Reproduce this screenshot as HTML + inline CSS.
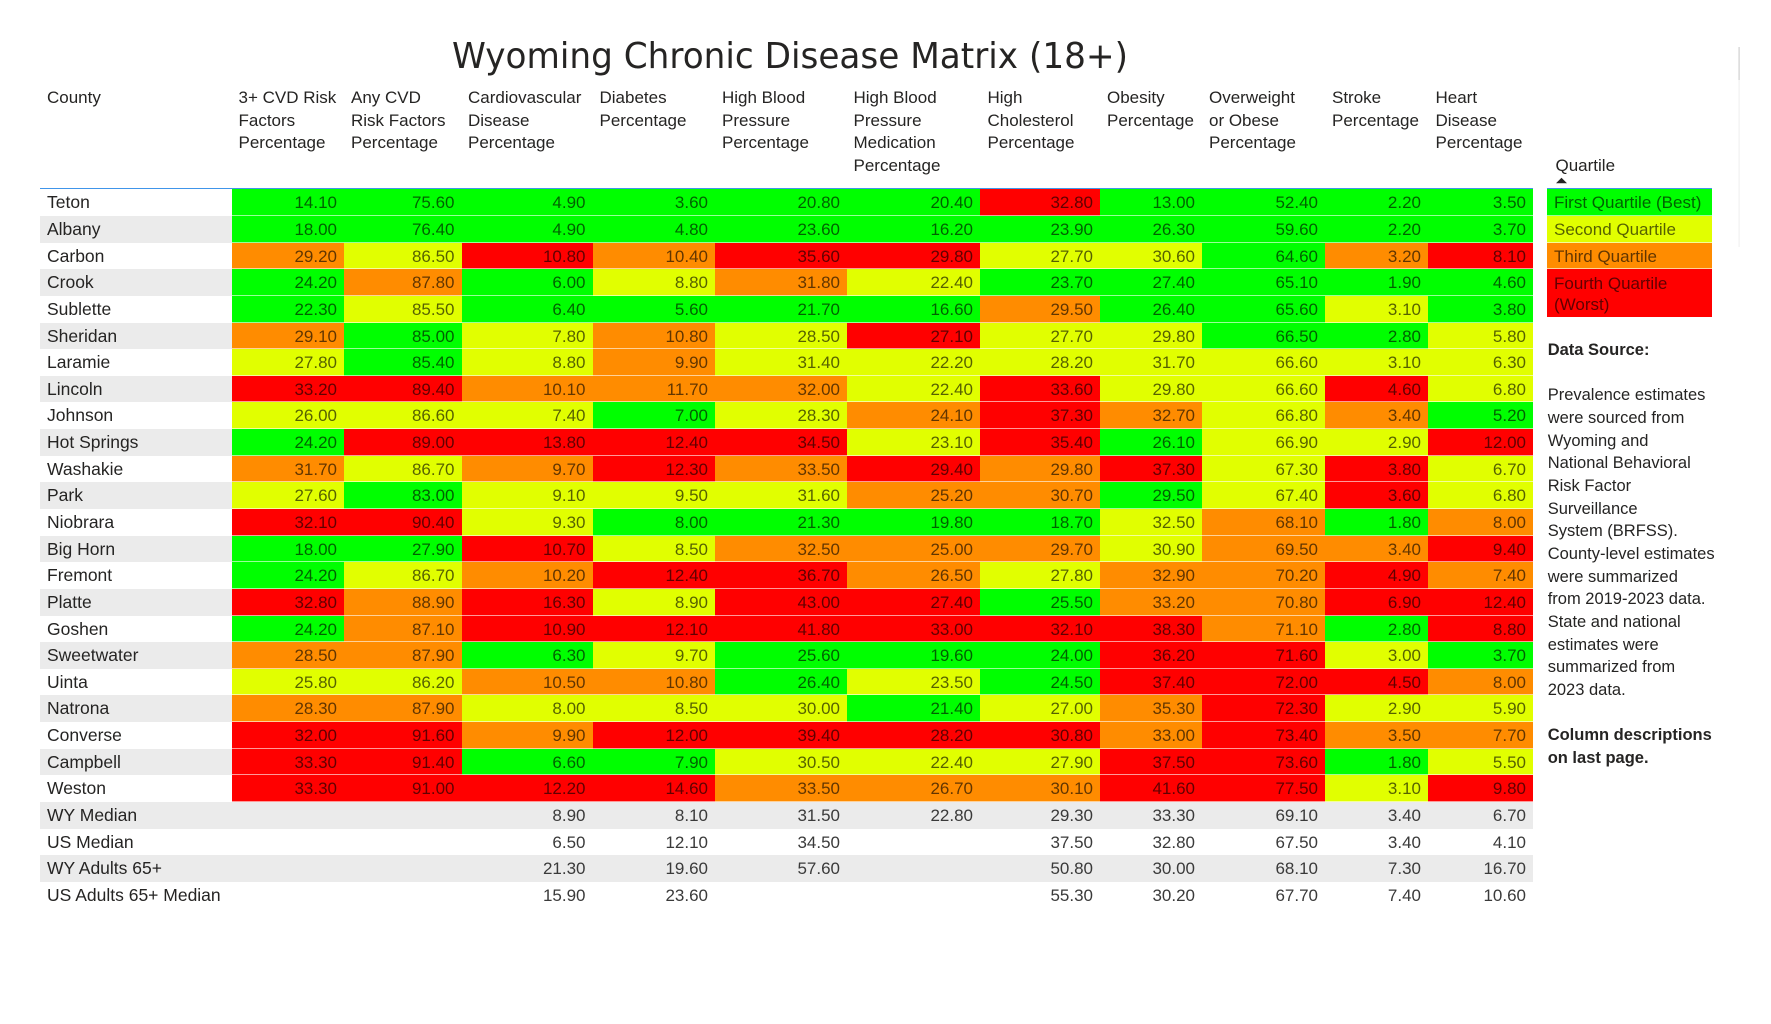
<!DOCTYPE html>
<html><head><meta charset="utf-8">
<style>
*{margin:0;padding:0;box-sizing:border-box}
html,body{width:1771px;height:1024px;background:#fff;overflow:hidden;position:relative;font-family:"Liberation Sans",Arial,sans-serif;color:#252423}
.h{position:absolute;top:87.4px;font-size:17px;line-height:22.5px;white-space:nowrap;color:#252423}
#grid{position:absolute;left:40px;top:189.3px;display:grid;grid-template-columns:191.5px 112.5px 117.5px 131px 122.5px 132px 133px 120px 102px 123px 103px 105px;grid-auto-rows:26.65px}
#grid div{font-size:17px;line-height:25.65px;padding-top:1px;text-align:right;padding-right:7px;white-space:nowrap;color:rgba(0,0,0,0.62)}
#grid .n{text-align:left;padding-left:7px;padding-right:0;font-size:17.5px;color:#252423}
#grid .a{background:#ebebeb}
#grid .s{color:#3a3a3a}
.g,.y,.o,.r{box-shadow:inset 0 -1px 0 rgba(255,255,255,0.6)}
.g{background:#00ff00}.y{background:#e1ff00}.o{background:#ff8c00}.r{background:#ff0000}
#leg{position:absolute;left:1547px;top:189.3px;width:165px}
#leg div{font-size:17px;padding-left:7px;color:rgba(0,0,0,0.62);white-space:nowrap}
#src{position:absolute;left:1547.7px;top:339px;font-size:16.5px;line-height:22.65px;white-space:nowrap;color:#252423}
</style></head><body>
<svg width="1771" height="1024" style="position:absolute;left:0;top:0" xmlns="http://www.w3.org/2000/svg">
<text x="452" y="68" font-family="DejaVu Sans, Liberation Sans, sans-serif" font-size="36" fill="#252423" textLength="676" lengthAdjust="spacingAndGlyphs">Wyoming Chronic Disease Matrix (18+)</text>
<rect x="1738.5" y="47" width="1.2" height="33" fill="#cfcfcf"/>
<rect x="1738.5" y="80" width="1.2" height="167" fill="#f1f1f1"/>
<polygon points="1556,183.3 1567,183.3 1561.5,177.7" fill="#252423"/>
</svg>

<div class="h" style="left:47px">County</div>
<div class="h" style="left:238.5px">3+ CVD Risk<br>Factors<br>Percentage</div>
<div class="h" style="left:351px">Any CVD<br>Risk Factors<br>Percentage</div>
<div class="h" style="left:468px">Cardiovascular<br>Disease<br>Percentage</div>
<div class="h" style="left:599.5px">Diabetes<br>Percentage</div>
<div class="h" style="left:722px">High Blood<br>Pressure<br>Percentage</div>
<div class="h" style="left:853.5px">High Blood<br>Pressure<br>Medication<br>Percentage</div>
<div class="h" style="left:987.5px">High<br>Cholesterol<br>Percentage</div>
<div class="h" style="left:1107px">Obesity<br>Percentage</div>
<div class="h" style="left:1209px">Overweight<br>or Obese<br>Percentage</div>
<div class="h" style="left:1332px">Stroke<br>Percentage</div>
<div class="h" style="left:1435.5px">Heart<br>Disease<br>Percentage</div>
<div class="h" style="left:1555.5px;top:154.9px">Quartile</div>

<div id="grid">
<div class="n">Teton</div><div class="g">14.10</div><div class="g">75.60</div><div class="g">4.90</div><div class="g">3.60</div><div class="g">20.80</div><div class="g">20.40</div><div class="r">32.80</div><div class="g">13.00</div><div class="g">52.40</div><div class="g">2.20</div><div class="g">3.50</div>
<div class="n a">Albany</div><div class="g">18.00</div><div class="g">76.40</div><div class="g">4.90</div><div class="g">4.80</div><div class="g">23.60</div><div class="g">16.20</div><div class="g">23.90</div><div class="g">26.30</div><div class="g">59.60</div><div class="g">2.20</div><div class="g">3.70</div>
<div class="n">Carbon</div><div class="o">29.20</div><div class="y">86.50</div><div class="r">10.80</div><div class="o">10.40</div><div class="r">35.60</div><div class="r">29.80</div><div class="y">27.70</div><div class="y">30.60</div><div class="g">64.60</div><div class="o">3.20</div><div class="r">8.10</div>
<div class="n a">Crook</div><div class="g">24.20</div><div class="o">87.80</div><div class="g">6.00</div><div class="y">8.80</div><div class="o">31.80</div><div class="y">22.40</div><div class="g">23.70</div><div class="g">27.40</div><div class="g">65.10</div><div class="g">1.90</div><div class="g">4.60</div>
<div class="n">Sublette</div><div class="g">22.30</div><div class="y">85.50</div><div class="g">6.40</div><div class="g">5.60</div><div class="g">21.70</div><div class="g">16.60</div><div class="o">29.50</div><div class="g">26.40</div><div class="g">65.60</div><div class="y">3.10</div><div class="g">3.80</div>
<div class="n a">Sheridan</div><div class="o">29.10</div><div class="g">85.00</div><div class="y">7.80</div><div class="o">10.80</div><div class="y">28.50</div><div class="r">27.10</div><div class="y">27.70</div><div class="y">29.80</div><div class="g">66.50</div><div class="g">2.80</div><div class="y">5.80</div>
<div class="n">Laramie</div><div class="y">27.80</div><div class="g">85.40</div><div class="y">8.80</div><div class="o">9.90</div><div class="y">31.40</div><div class="y">22.20</div><div class="y">28.20</div><div class="y">31.70</div><div class="y">66.60</div><div class="y">3.10</div><div class="y">6.30</div>
<div class="n a">Lincoln</div><div class="r">33.20</div><div class="r">89.40</div><div class="o">10.10</div><div class="o">11.70</div><div class="o">32.00</div><div class="y">22.40</div><div class="r">33.60</div><div class="y">29.80</div><div class="y">66.60</div><div class="r">4.60</div><div class="y">6.80</div>
<div class="n">Johnson</div><div class="y">26.00</div><div class="y">86.60</div><div class="y">7.40</div><div class="g">7.00</div><div class="y">28.30</div><div class="o">24.10</div><div class="r">37.30</div><div class="o">32.70</div><div class="y">66.80</div><div class="o">3.40</div><div class="g">5.20</div>
<div class="n a">Hot Springs</div><div class="g">24.20</div><div class="r">89.00</div><div class="r">13.80</div><div class="r">12.40</div><div class="r">34.50</div><div class="y">23.10</div><div class="r">35.40</div><div class="g">26.10</div><div class="y">66.90</div><div class="y">2.90</div><div class="r">12.00</div>
<div class="n">Washakie</div><div class="o">31.70</div><div class="y">86.70</div><div class="o">9.70</div><div class="r">12.30</div><div class="o">33.50</div><div class="r">29.40</div><div class="o">29.80</div><div class="r">37.30</div><div class="y">67.30</div><div class="r">3.80</div><div class="y">6.70</div>
<div class="n a">Park</div><div class="y">27.60</div><div class="g">83.00</div><div class="y">9.10</div><div class="y">9.50</div><div class="y">31.60</div><div class="o">25.20</div><div class="o">30.70</div><div class="g">29.50</div><div class="y">67.40</div><div class="r">3.60</div><div class="y">6.80</div>
<div class="n">Niobrara</div><div class="r">32.10</div><div class="r">90.40</div><div class="y">9.30</div><div class="g">8.00</div><div class="g">21.30</div><div class="g">19.80</div><div class="g">18.70</div><div class="y">32.50</div><div class="o">68.10</div><div class="g">1.80</div><div class="o">8.00</div>
<div class="n a">Big Horn</div><div class="g">18.00</div><div class="g">27.90</div><div class="r">10.70</div><div class="y">8.50</div><div class="o">32.50</div><div class="o">25.00</div><div class="o">29.70</div><div class="y">30.90</div><div class="o">69.50</div><div class="o">3.40</div><div class="r">9.40</div>
<div class="n">Fremont</div><div class="g">24.20</div><div class="y">86.70</div><div class="o">10.20</div><div class="r">12.40</div><div class="r">36.70</div><div class="o">26.50</div><div class="y">27.80</div><div class="o">32.90</div><div class="o">70.20</div><div class="r">4.90</div><div class="o">7.40</div>
<div class="n a">Platte</div><div class="r">32.80</div><div class="o">88.90</div><div class="r">16.30</div><div class="y">8.90</div><div class="r">43.00</div><div class="r">27.40</div><div class="g">25.50</div><div class="o">33.20</div><div class="o">70.80</div><div class="r">6.90</div><div class="r">12.40</div>
<div class="n">Goshen</div><div class="g">24.20</div><div class="o">87.10</div><div class="r">10.90</div><div class="r">12.10</div><div class="r">41.80</div><div class="r">33.00</div><div class="r">32.10</div><div class="r">38.30</div><div class="o">71.10</div><div class="g">2.80</div><div class="r">8.80</div>
<div class="n a">Sweetwater</div><div class="o">28.50</div><div class="o">87.90</div><div class="g">6.30</div><div class="y">9.70</div><div class="g">25.60</div><div class="g">19.60</div><div class="g">24.00</div><div class="r">36.20</div><div class="r">71.60</div><div class="y">3.00</div><div class="g">3.70</div>
<div class="n">Uinta</div><div class="y">25.80</div><div class="y">86.20</div><div class="o">10.50</div><div class="o">10.80</div><div class="g">26.40</div><div class="y">23.50</div><div class="g">24.50</div><div class="r">37.40</div><div class="r">72.00</div><div class="r">4.50</div><div class="o">8.00</div>
<div class="n a">Natrona</div><div class="o">28.30</div><div class="o">87.90</div><div class="y">8.00</div><div class="y">8.50</div><div class="y">30.00</div><div class="g">21.40</div><div class="y">27.00</div><div class="o">35.30</div><div class="r">72.30</div><div class="y">2.90</div><div class="y">5.90</div>
<div class="n">Converse</div><div class="r">32.00</div><div class="r">91.60</div><div class="o">9.90</div><div class="r">12.00</div><div class="r">39.40</div><div class="r">28.20</div><div class="r">30.80</div><div class="o">33.00</div><div class="r">73.40</div><div class="o">3.50</div><div class="o">7.70</div>
<div class="n a">Campbell</div><div class="r">33.30</div><div class="r">91.40</div><div class="g">6.60</div><div class="g">7.90</div><div class="y">30.50</div><div class="y">22.40</div><div class="y">27.90</div><div class="r">37.50</div><div class="r">73.60</div><div class="g">1.80</div><div class="y">5.50</div>
<div class="n">Weston</div><div class="r">33.30</div><div class="r">91.00</div><div class="r">12.20</div><div class="r">14.60</div><div class="o">33.50</div><div class="o">26.70</div><div class="o">30.10</div><div class="r">41.60</div><div class="r">77.50</div><div class="y">3.10</div><div class="r">9.80</div>
<div class="n a">WY Median</div><div class="s a"></div><div class="s a"></div><div class="s a">8.90</div><div class="s a">8.10</div><div class="s a">31.50</div><div class="s a">22.80</div><div class="s a">29.30</div><div class="s a">33.30</div><div class="s a">69.10</div><div class="s a">3.40</div><div class="s a">6.70</div>
<div class="n">US Median</div><div class="s"></div><div class="s"></div><div class="s">6.50</div><div class="s">12.10</div><div class="s">34.50</div><div class="s"></div><div class="s">37.50</div><div class="s">32.80</div><div class="s">67.50</div><div class="s">3.40</div><div class="s">4.10</div>
<div class="n a">WY Adults 65+</div><div class="s a"></div><div class="s a"></div><div class="s a">21.30</div><div class="s a">19.60</div><div class="s a">57.60</div><div class="s a"></div><div class="s a">50.80</div><div class="s a">30.00</div><div class="s a">68.10</div><div class="s a">7.30</div><div class="s a">16.70</div>
<div class="n">US Adults 65+ Median</div><div class="s"></div><div class="s"></div><div class="s">15.90</div><div class="s">23.60</div><div class="s"></div><div class="s"></div><div class="s">55.30</div><div class="s">30.20</div><div class="s">67.70</div><div class="s">7.40</div><div class="s">10.60</div>
</div>

<div style="position:absolute;left:40px;top:187.6px;width:1493px;height:1.6px;background:rgba(30,130,230,0.85)"></div>
<div style="position:absolute;left:1547px;top:187.6px;width:165px;height:1.6px;background:rgba(30,130,230,0.85)"></div>

<div id="leg">
<div class="g" style="height:26.65px;line-height:25.65px;padding-top:1px">First Quartile (Best)</div>
<div class="y" style="height:26.65px;line-height:25.65px;padding-top:1px">Second Quartile</div>
<div class="o" style="height:26.65px;line-height:25.65px;padding-top:1px">Third Quartile</div>
<div class="r" style="height:47.4px;line-height:21px;padding-top:4px;box-shadow:none">Fourth Quartile<br>(Worst)</div>
</div>

<div id="src"><b>Data Source:</b><br><br>Prevalence estimates<br>were sourced from<br>Wyoming and<br>National Behavioral<br>Risk Factor<br>Surveillance<br>System (BRFSS).<br>County-level estimates<br>were summarized<br>from 2019-2023 data.<br>State and national<br>estimates were<br>summarized from<br>2023 data.<br><br><b>Column descriptions<br>on last page.</b></div>
</body></html>
